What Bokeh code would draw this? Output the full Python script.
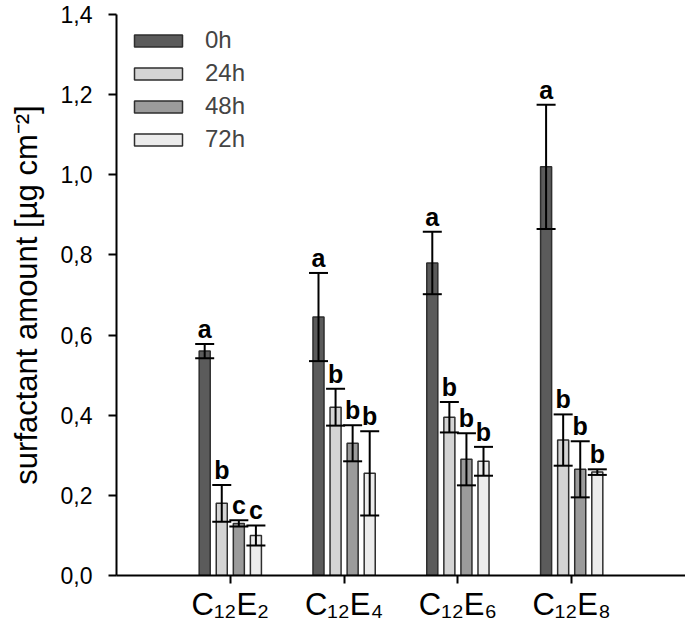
from bokeh.plotting import figure
from bokeh.models import (Range1d, FixedTicker, CustomJSTickFormatter, Whisker,
                          ColumnDataSource, TeeHead, LabelSet)
from bokeh.core.properties import value
from bokeh.embed import file_html
from bokeh.resources import INLINE

# ---- data ----
categories = ["C₁₂E₂", "C₁₂E₄", "C₁₂E₆", "C₁₂E₈"]
series = ["0h", "24h", "48h", "72h"]
values = {
    "0h":  [0.56, 0.645, 0.78, 1.02],
    "24h": [0.18, 0.42, 0.395, 0.338],
    "48h": [0.13, 0.33, 0.29, 0.265],
    "72h": [0.10, 0.255, 0.285, 0.258],
}
errors = {
    "0h":  [0.018, 0.11, 0.078, 0.155],
    "24h": [0.046, 0.046, 0.038, 0.064],
    "48h": [0.008, 0.045, 0.065, 0.07],
    "72h": [0.025, 0.105, 0.036, 0.007],
}
letters = {
    "0h":  ["a", "a", "a", "a"],
    "24h": ["b", "b", "b", "b"],
    "48h": ["c", "b", "b", "b"],
    "72h": ["c", "b", "b", "b"],
}
yticks = [0.0, 0.2, 0.4, 0.6, 0.8, 1.0, 1.2, 1.4]

colors = {"0h": "#5b5b5b", "24h": "#d4d4d4", "48h": "#9b9b9b", "72h": "#ececec"}
offsets = {"0h": -0.225, "24h": -0.075, "48h": 0.075, "72h": 0.225}
FONT = "Liberation Sans"

p = figure(width=685, height=624, output_backend="svg", toolbar_location=None,
           x_range=Range1d(0, 5), y_range=Range1d(0, 1.4),
           min_border_left=116, min_border_right=0, min_border_top=14,
           min_border_bottom=48)
p.outline_line_color = None
p.xgrid.visible = False
p.ygrid.visible = False
p.background_fill_color = "white"

for s in series:
    xs = [i + 1 + offsets[s] for i in range(len(categories))]
    v = values[s]
    e = errors[s]
    src = ColumnDataSource(dict(
        x=xs, top=v, upper=[a + b for a, b in zip(v, e)],
        lower=[a - b for a, b in zip(v, e)], lab=letters[s]))
    p.vbar(x="x", top="top", bottom=0, width=0.097, source=src,
           fill_color=colors[s], line_color="#2e2e2e", line_width=1.5,
           legend_label=s)
    w = Whisker(base="x", upper="upper", lower="lower", source=src,
                line_color="black", line_width=2, level="overlay",
                upper_head=TeeHead(size=19, line_width=2, line_color="black"),
                lower_head=TeeHead(size=19, line_width=2, line_color="black"))
    p.add_layout(w)
    ls = LabelSet(x="x", y="upper", text="lab", source=src,
                  text_align="center", text_baseline="bottom", y_offset=1,
                  text_font=value(FONT), text_font_style="bold",
                  text_font_size="25px", text_color="black")
    p.add_layout(ls)

# axes
p.yaxis.ticker = FixedTicker(ticks=yticks)
p.yaxis.formatter = CustomJSTickFormatter(code="return tick.toFixed(1).replace('.', ',');")
p.yaxis.axis_label = "surfactant amount [µg cm⁻²]"
p.yaxis.axis_label_text_font = FONT
p.yaxis.axis_label_text_font_style = "normal"
p.yaxis.axis_label_text_font_size = "31px"
p.yaxis.axis_label_standoff = 14
p.yaxis.major_label_text_font = FONT
p.yaxis.major_label_text_font_size = "23px"
p.yaxis.major_label_standoff = 16

p.xaxis.ticker = FixedTicker(ticks=[1, 2, 3, 4])
p.xaxis.formatter = CustomJSTickFormatter(args=dict(labs=categories),
                                          code="return labs[Math.round(tick) - 1];")
p.xaxis.major_label_text_font = FONT
p.xaxis.major_label_text_font_size = "31px"
p.xaxis.major_label_standoff = 3

for ax in (p.xaxis[0], p.yaxis[0]):
    ax.axis_line_width = 2
    ax.axis_line_color = "black"
    ax.major_tick_line_width = 2
    ax.major_tick_line_color = "black"
    ax.major_tick_out = 8
    ax.major_tick_in = 0
    ax.minor_tick_line_color = None
    ax.major_label_text_color = "black"
    ax.axis_label_text_color = "black"

lg = p.legend[0]
lg.location = (12, 422)
lg.border_line_color = None
lg.background_fill_alpha = 0
lg.glyph_width = 60
lg.glyph_height = 15
lg.label_text_font = FONT
lg.label_text_font_size = "24px"
lg.label_standoff = 17
lg.spacing = 5
lg.padding = 0
lg.margin = 0
lg.label_height = 20

open("out.html", "w").write(file_html(p, INLINE))
